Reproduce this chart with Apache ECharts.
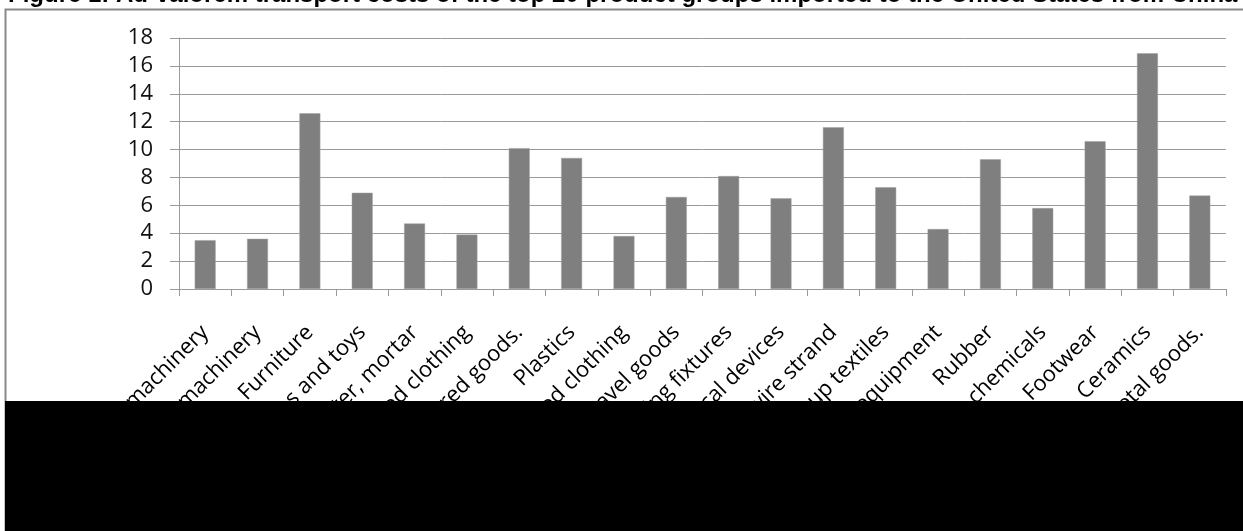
<!DOCTYPE html>
<html>
<head>
<meta charset="utf-8">
<script src="https://cdn.jsdelivr.net/npm/echarts@6/dist/echarts.min.js"></script>
<style>
  html, body { margin: 0; padding: 0; background: #fff; }
  #chart { width: 1243px; height: 531px; }
</style>
</head>
<body>
<div id="chart"></div>
<script>
// Ad-valorem transport costs (%) by product group, US imports from China
const categories = [
  'Electrical machinery',
  'Nuclear reactors, boilers, machinery',
  'Furniture',
  'Games and toys',
  'Articles of stone, plaster, mortar',
  'Knitted clothing',
  'Misc. manufactured goods.',
  'Plastics',
  'Non-knitted clothing',
  'Leather and travel goods',
  'Lighting fixtures',
  'Optical and medical devices',
  'Iron and steel wire strand',
  'Made-up textiles',
  'Photographic equipment',
  'Rubber',
  'Organic chemicals',
  'Footwear',
  'Ceramics',
  'Other base metal goods.'
];
const transportCost = [3.5, 3.6, 12.6, 6.9, 4.7, 3.9, 10.1, 9.4, 3.8, 6.6,
                       8.1, 6.5, 11.6, 7.3, 4.3, 9.3, 5.8, 10.6, 16.9, 6.7];
const yTicks = { min: 0, max: 18, interval: 2 };
const titleText = 'Figure 1: Ad-valorem transport costs of the top 20 product groups imported to the United States from China';

const chart = echarts.init(document.getElementById('chart'), null, { renderer: 'canvas' });
const axisGray = '#9a9a9a';
const labelFont = '"Open Sans", "DejaVu Sans", sans-serif';

chart.setOption({
  animation: false,
  backgroundColor: '#fff',
  grid: {
    left: 179, right: 17, top: 38, bottom: 242,
    containLabel: false, outerBoundsMode: 'none'
  },
  xAxis: {
    type: 'category',
    data: categories,
    boundaryGap: true,
    axisLine: { show: true, lineStyle: { color: axisGray, width: 1 } },
    axisTick: { show: true, length: 7, alignWithLabel: false, lineStyle: { color: axisGray } },
    axisLabel: {
      interval: 0, rotate: 45, margin: 40, hideOverlap: false,
      fontFamily: labelFont, fontSize: 22, color: '#000'
    },
    splitLine: { show: false }
  },
  yAxis: {
    type: 'value',
    min: yTicks.min, max: yTicks.max, interval: yTicks.interval,
    axisLine: { show: true, lineStyle: { color: axisGray, width: 1 } },
    axisTick: { show: true, length: 9, lineStyle: { color: axisGray } },
    axisLabel: {
      margin: 26, showMinLabel: true, showMaxLabel: true, hideOverlap: false,
      fontFamily: labelFont, fontSize: 22, color: '#111'
    },
    splitLine: { show: true, lineStyle: { color: axisGray, width: 1 } }
  },
  series: [{
    type: 'bar',
    data: transportCost,
    barCategoryGap: '60%',
    itemStyle: { color: '#7f7f7f', borderColor: '#a0a0a0', borderWidth: 0.5 }
  }],
  graphic: [
    {
      type: 'rect', z: 50, silent: true,
      shape: { x: 5.5, y: 9.5, width: 1300, height: 600 },
      style: { fill: 'none', stroke: '#898989', lineWidth: 2 }
    },
    {
      type: 'text', z: 50, silent: true,
      x: 8, y: -5,
      style: {
        text: titleText,
        font: 'bold 24px "Liberation Sans", Arial, sans-serif',
        fill: '#000', verticalAlign: 'middle', align: 'left'
      }
    },
    {
      type: 'rect', z: 100, silent: true,
      shape: { x: 5, y: 401, width: 1238, height: 130 },
      style: { fill: '#000' }
    }
  ]
});
</script>
</body>
</html>
